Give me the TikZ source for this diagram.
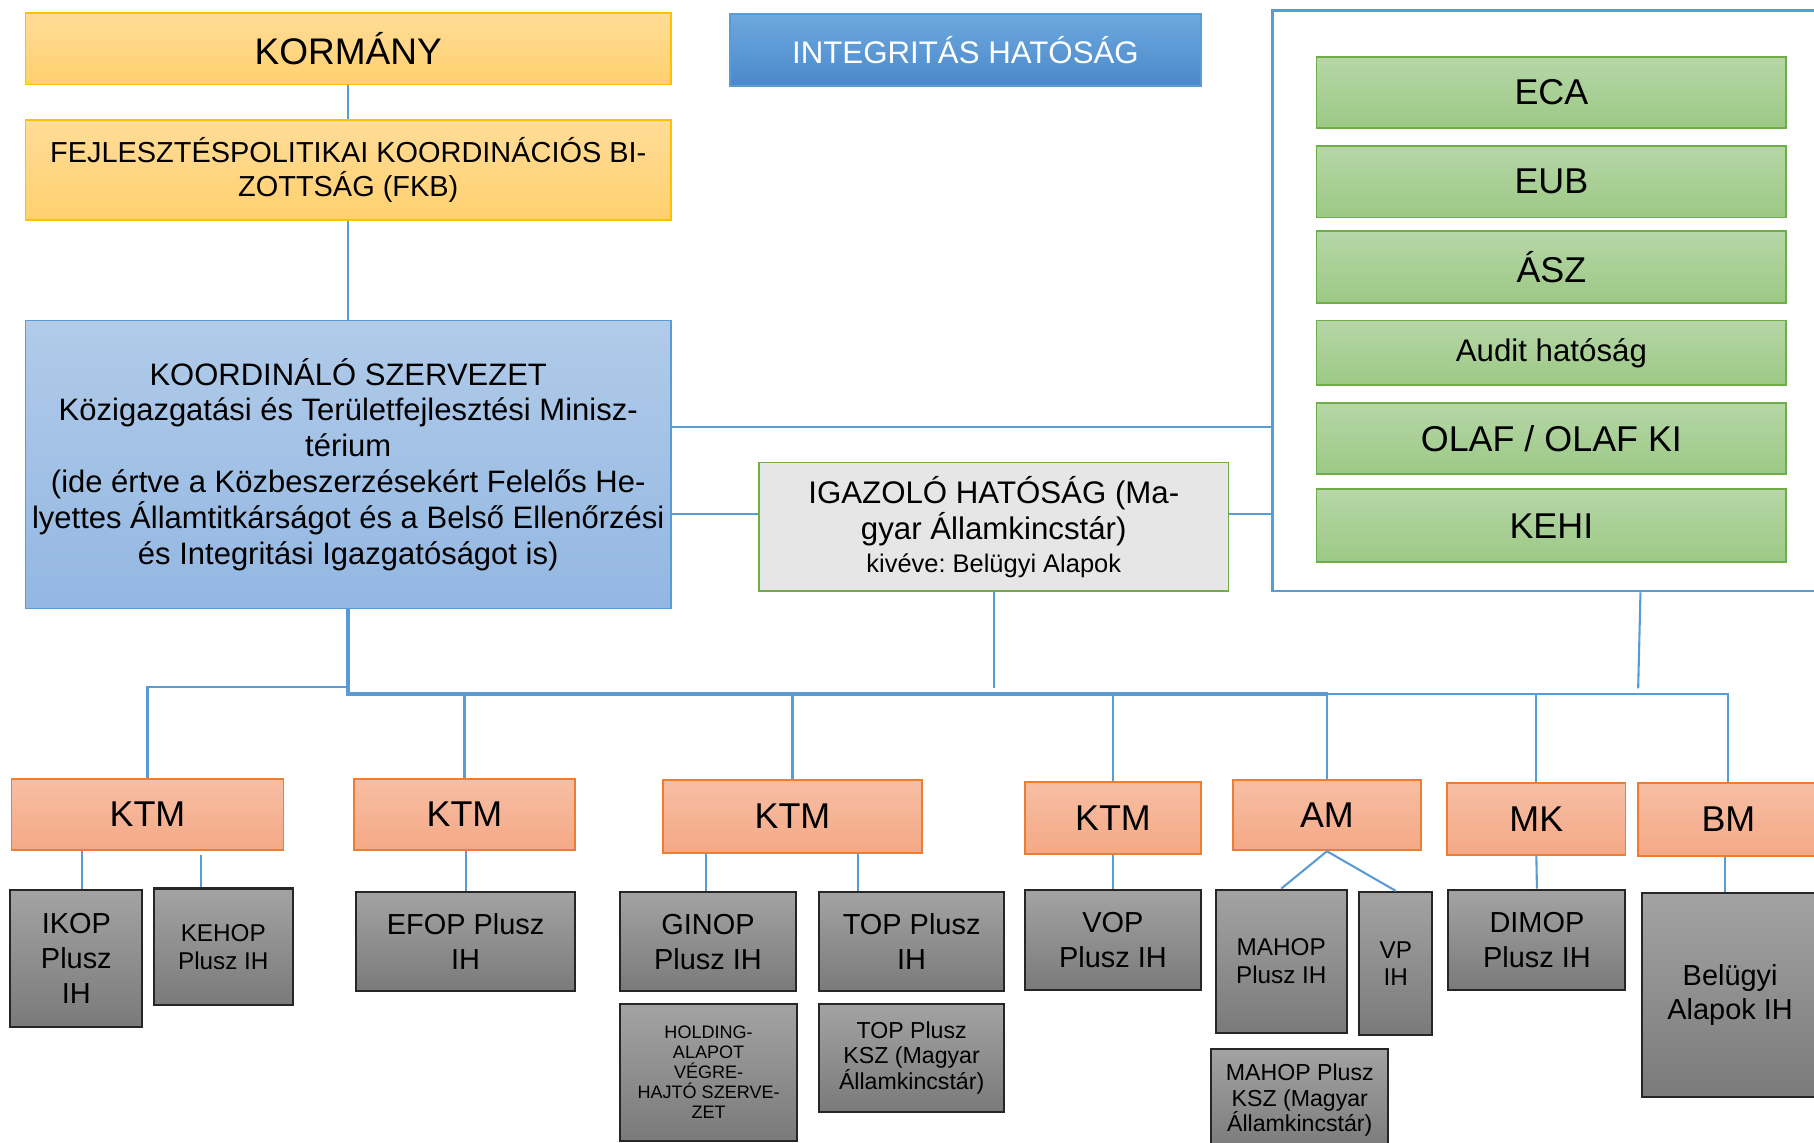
\documentclass[tikz,border=0pt]{standalone}
\usepackage{fontspec}
\setmainfont{Liberation Sans}
\frenchspacing

\definecolor{goldline}{HTML}{FFC000}
\definecolor{goldtop}{HTML}{FFDC98}
\definecolor{goldbot}{HTML}{FFD06E}
\definecolor{blueline}{HTML}{5B9BD5}
\definecolor{bluetop}{HTML}{6EA8DE}
\definecolor{bluebot}{HTML}{4A89CB}
\definecolor{koordtop}{HTML}{B1CBE9}
\definecolor{koordbot}{HTML}{93B7E2}
\definecolor{greenline}{HTML}{70AD47}
\definecolor{greentop}{HTML}{B6D6A7}
\definecolor{greenbot}{HTML}{9CC985}
\definecolor{salmonline}{HTML}{ED7D31}
\definecolor{salmontop}{HTML}{F7BEA4}
\definecolor{salmonbot}{HTML}{F4A986}
\definecolor{graytop}{HTML}{A3A3A3}
\definecolor{graybot}{HTML}{7A7A7A}
\definecolor{grayline}{HTML}{262626}
\definecolor{igfill}{HTML}{E7E6E6}

\begin{document}
\begin{tikzpicture}[
        x=0.5pt, y=-0.5pt,
        base/.style={inner sep=0pt, align=center, anchor=center},
        govbox/.style={base, draw=goldline, line width=0.8pt, top color=goldtop, bottom color=goldbot, minimum width=279pt},
        intbox/.style={base, draw=blueline, line width=0.8pt, top color=bluetop, bottom color=bluebot, text=white, font=\fontsize{13.5}{16}\selectfont},
        koordbox/.style={base, draw=blueline, line width=0.8pt, top color=koordtop, bottom color=koordbot, font=\fontsize{13.4}{15.5}\selectfont},
        igbox/.style={base, draw=greenline, line width=0.6pt, fill=igfill, font=\fontsize{13.5}{15.5}\selectfont},
        frame/.style={base, draw=blueline, line width=1.1pt, fill=white},
        greenbox/.style={base, draw=greenline, line width=0.8pt, top color=greentop, bottom color=greenbot, minimum width=203pt, minimum height=31pt, font=\fontsize{15.5}{18}\selectfont},
        ktmbox/.style={base, draw=salmonline, line width=0.8pt, top color=salmontop, bottom color=salmonbot, minimum height=31pt, font=\fontsize{15.5}{18}\selectfont},
        ihbox/.style={base, draw=grayline, line width=0.9pt, top color=graytop, bottom color=graybot, font=\fontsize{12.5}{15}\selectfont},
        smallih/.style={ihbox, font=\fontsize{10.5}{12}\selectfont},
        kszbox/.style={ihbox, font=\fontsize{10}{11}\selectfont},
        conn/.style={draw=blueline, line width=0.9pt},
        busline/.style={draw=blueline, line width=1.7pt}
    ]
        \path[use as bounding box] (0,0) rectangle (1568,988);
        \clip (0,0) rectangle (1568,988);
        \fill[white] (0,0) rectangle (1568,988);

        % Top level
        \node[govbox, minimum height=31pt, font=\fontsize{16}{18}\selectfont] (kormany) at (301,42) {KORMÁNY};
        \node[govbox, minimum height=43pt, font=\fontsize{12.5}{15}\selectfont] (fkb) at (301,147) {FEJLESZTÉSPOLITIKAI KOORDINÁCIÓS BI-\\ZOTTSÁG (FKB)};
        \node[intbox, minimum width=203.5pt, minimum height=31pt] (integ) at (834.5,43) {INTEGRITÁS HATÓSÁG};
        \node[koordbox, minimum width=279pt, minimum height=124.5pt] (koord) at (301,401.5) {KOORDINÁLÓ SZERVEZET\\Közigazgatási és Területfejlesztési Minisz-\\térium\\(ide értve a Közbeszerzésekért Felelős He-\\lyettes Államtitkárságot és a Belső Ellenőrzési\\és Integritási Igazgatóságot is)};
        \node[igbox, minimum width=203pt, minimum height=55.5pt] (igazolo) at (859,455.5) {IGAZOLÓ HATÓSÁG (Ma-\\gyar Államkincstár)\\[-1pt]{\fontsize{11}{13}\selectfont kivéve: Belügyi Alapok}};

        % Control bodies
        \node[frame, minimum width=260pt, minimum height=251pt] (ext) at (1360,260) {};
        \node[greenbox] (eca) at (1341,80) {ECA};
        \node[greenbox] (eub) at (1341,157) {EUB};
        \node[greenbox] (asz) at (1341,231) {ÁSZ};
        \node[greenbox, minimum height=28pt, font=\fontsize{13.5}{16}\selectfont] (audit) at (1341,305) {Audit hatóság};
        \node[greenbox] (olaf) at (1341,379) {OLAF / OLAF KI};
        \node[greenbox, minimum height=31.5pt] (kehi) at (1341,454.5) {KEHI};

        % Ministries
        \node[ktmbox, minimum width=117.5pt] (ktma) at (127.5,704) {KTM};
        \node[ktmbox, minimum width=95.5pt] (ktmb) at (401.5,704) {KTM};
        \node[ktmbox, minimum width=112pt, minimum height=31.5pt] (ktmc) at (685,705.5) {KTM};
        \node[ktmbox, minimum width=76pt] (ktmd) at (962,707) {KTM};
        \node[ktmbox, minimum width=81pt, minimum height=30.5pt] (am) at (1147,704.5) {AM};
        \node[ktmbox, minimum width=77pt] (mk) at (1328,708) {MK};
        \node[ktmbox, minimum width=78pt, minimum height=31.5pt] (bm) at (1494,708.5) {BM};

        % Managing authorities
        \node[ihbox, minimum width=57pt, minimum height=59.5pt] (ikop) at (66,828.5) {IKOP\\Plusz\\IH};
        \node[smallih, minimum width=60pt, minimum height=50.5pt] (kehop) at (193,818.5) {KEHOP\\Plusz IH};
        \node[ihbox, minimum width=94.5pt, minimum height=43pt] (efop) at (402.5,814) {EFOP Plusz\\IH};
        \node[ihbox, minimum width=76pt, minimum height=43pt] (ginop) at (612,814) {GINOP\\Plusz IH};
        \node[ihbox, minimum width=80pt, minimum height=43pt] (top) at (788,814) {TOP Plusz\\IH};
        \node[ihbox, minimum width=76.5pt, minimum height=59pt, font=\fontsize{7.8}{8.6}\selectfont] (holding) at (612.5,927) {HOLDING-\\ALAPOT\\VÉGRE-\\HAJTÓ SZERVE-\\ZET};
        \node[kszbox, minimum width=80pt, minimum height=46.5pt] (topksz) at (788,914.5) {TOP Plusz\\KSZ (Magyar\\Államkincstár)};
        \node[ihbox, minimum width=76pt, minimum height=43.5pt] (vop) at (962,812.5) {VOP\\Plusz IH};
        \node[smallih, minimum width=56.5pt, minimum height=62pt] (mahop) at (1107.5,831) {MAHOP\\Plusz IH};
        \node[smallih, minimum width=31.5pt, minimum height=62pt] (vp) at (1206.5,833) {VP\\IH};
        \node[kszbox, minimum width=76.5pt, minimum height=44pt] (mahopksz) at (1123.5,951) {MAHOP Plusz\\KSZ (Magyar\\Államkincstár)};
        \node[ihbox, minimum width=76.5pt, minimum height=43.5pt] (dimop) at (1328.5,812.5) {DIMOP\\Plusz IH};
        \node[ihbox, minimum width=76.5pt, minimum height=88pt] (belugyi) at (1495.5,860) {Belügyi\\Alapok IH};

        % Bus points
        \coordinate (busl) at (301,600);
        \coordinate (busm) at (1148,600);
        \coordinate (igend) at (859,595);
        \coordinate (extend) at (1416,595);

        % Upper connectors
        \draw[conn] (kormany) -- (fkb);
        \draw[conn] (fkb) -- (koord);
        \draw[conn] (koord.east |- 0,369) -- (ext.west |- 0,369);
        \draw[conn] (koord.east |- 0,444) -- (igazolo.west |- 0,444);
        \draw[conn] (igazolo.east |- 0,444) -- (ext.west |- 0,444);
        \draw[conn] (igazolo.south) -- (igend);
        \draw[conn] (ext.south -| 1418,0) -- (extend);

        % Bus
        \draw[busline] (koord.south) -- (busl) -- (busm);
        \draw[conn] (busm) -| (bm.north);
        \draw[conn] (koord.south |- 0,594) -| (ktma.north);
        \draw[conn] (ktmb.north |- busl) -- (ktmb.north);
        \draw[conn] (ktmc.north |- busl) -- (ktmc.north);
        \draw[conn] (ktmd.north |- busl) -- (ktmd.north);
        \draw[conn] (am.north |- busl) -- (am.north);
        \draw[conn] (mk.north |- busl) -- (mk.north);

        % Lower connectors
        \draw[conn] (ktma.south -| 71,0) -- (ikop.north -| 71,0);
        \draw[conn] (174,739) -- (kehop.north -| 174,0);
        \draw[conn] (ktmb.south -| efop.north) -- (efop.north);
        \draw[conn] (ktmc.south -| 610,0) -- (ginop.north -| 610,0);
        \draw[conn] (ktmc.south -| 742,0) -- (top.north -| 742,0);
        \draw[conn] (ktmd.south) -- (vop.north);
        \draw[conn] (am.south) -- (mahop.north);
        \draw[conn] (am.south) -- (vp.north);
        \draw[conn] (mk.south) -- (dimop.north);
        \draw[conn] (bm.south -| 1491,0) -- (belugyi.north -| 1491,0);
    \end{tikzpicture}
\end{document}
